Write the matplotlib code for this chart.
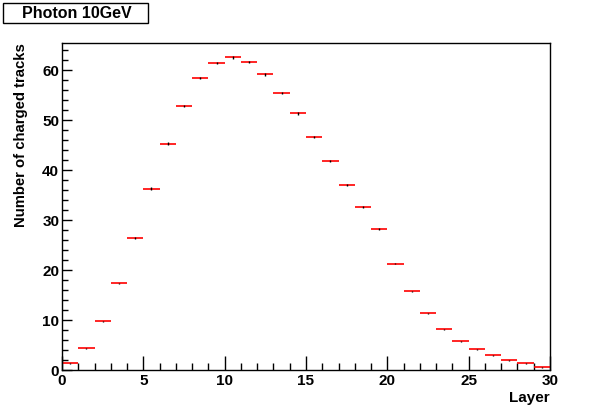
import matplotlib.pyplot as plt
import numpy as np
from matplotlib.patches import Rectangle

plt.rcParams['font.family'] = ['Liberation Sans', 'DejaVu Sans']
plt.rcParams['font.weight'] = 'bold'

# layer bins and mean number of charged tracks per layer
layer_edges = np.arange(0, 31)
n_tracks = [1.33, 4.33, 9.73, 17.33, 26.53, 36.33, 45.33, 52.93, 58.53, 61.53,
            62.6, 61.73, 59.2, 55.53, 51.4, 46.67, 41.93, 37.13, 32.73, 28.33,
            21.33, 15.73, 11.33, 8.13, 5.73, 4.13, 2.93, 1.93, 1.33, 0.53]
n_err = [0.05, 0.1, 0.15, 0.15, 0.2, 0.25, 0.25, 0.25, 0.25, 0.25,
         0.25, 0.25, 0.25, 0.25, 0.25, 0.25, 0.2, 0.2, 0.2, 0.2,
         0.15, 0.15, 0.15, 0.1, 0.1, 0.1, 0.05, 0.05, 0.05, 0.05]

fig = plt.figure(figsize=(6.12, 4.12), dpi=100)
W, H = 612, 412
ax = fig.add_axes([62 / W, 1 - 370 / H, (550 - 62) / W, (370 - 43) / H])

centers = (layer_edges[:-1] + layer_edges[1:]) / 2
ax.hlines(n_tracks, layer_edges[:-1], layer_edges[1:], color='red', lw=1.2)
ax.vlines(centers, np.array(n_tracks) - np.array(n_err),
          np.array(n_tracks) + np.array(n_err), color='black', lw=1)

ax.set_xlim(0, 30)
ax.set_ylim(0, 65.5)
ax.set_xticks(np.arange(0, 31, 5))
ax.set_xticks(np.arange(0, 31, 1), minor=True)
ax.set_yticks(np.arange(0, 61, 10))
ax.set_yticks(np.arange(0, 65, 2), minor=True)
ax.tick_params(which='both', direction='in', top=False, right=False,
               labelsize=11, width=1)
ax.tick_params(axis='x', which='major', length=10, pad=3)
ax.tick_params(axis='x', which='minor', length=5)
ax.tick_params(axis='y', which='major', length=7, pad=2)
ax.tick_params(axis='y', which='minor', length=4)
for lab in ax.get_xticklabels() + ax.get_yticklabels():
    lab.set_fontweight('bold')
for s in ax.spines.values():
    s.set_linewidth(1)

ax.set_xlabel('Layer', fontsize=11, fontweight='bold', loc='right', labelpad=2)
ax.set_ylabel('Number of charged tracks', fontsize=10.7, fontweight='bold',
              loc='top', labelpad=10)

# title box
fig.patches.append(Rectangle((3 / W, 1 - 23 / H), 145 / W, 20 / H,
                             transform=fig.transFigure, fill=False,
                             edgecolor='black', lw=1))
fig.text(77 / W, 1 - 13 / H, 'Photon 10GeV', fontsize=11.5, fontweight='bold',
         ha='center', va='center')

fig.savefig('out.png', dpi=100)
